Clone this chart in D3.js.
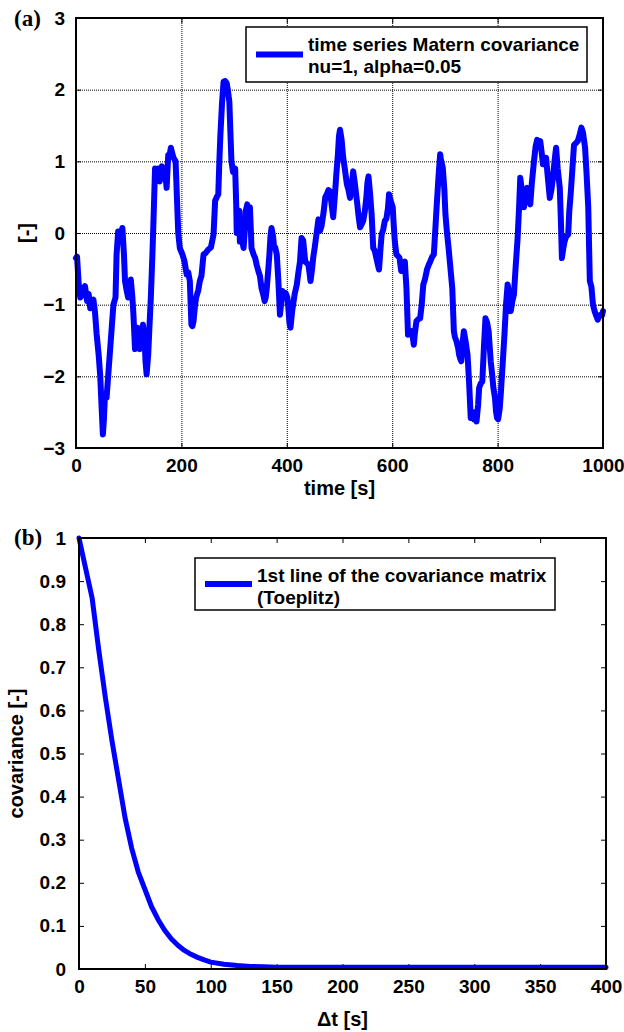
<!DOCTYPE html>
<html>
<head>
<meta charset="utf-8">
<script src="https://cdn.jsdelivr.net/npm/d3@7"></script>
<style>
  body { margin: 0; background: #fff; }
  text { font-family: "Liberation Sans", Arial, sans-serif; font-weight: bold; fill: #000; }
  .panel-tag { font-family: "Liberation Serif", "Times New Roman", serif; font-size: 23px; }
  .grid line { stroke: #000; stroke-width: 1; stroke-dasharray: 1,1; }
  .grid path { display: none; }
  .ticks path { display: none; }
  .ticks line { stroke: #000; stroke-width: 1; }
  .labels path, .labels line { display: none; }
  .labels text { font-size: 19px; }
</style>
</head>
<body>
<svg id="chart"></svg>
<script>
const width = 624;
const height = 1032;

// panel (a): time series, Matern covariance nu=1, alpha=0.05
const tsTime = [0,2,5,8,12,17,21,24,27,30,33,36,39,43,46,49,51,53,55,58,62,65,68,71,75,77,80,84,88,91,93,96,99,102,104,107,109,112,114,116,119,121,124,127,130,132,134,137,139,142,145,147,150,153,156,159,161,163,166,169,172,175,178,180,183,185,189,192,194,197,202,206,210,213,216,219,221,223,226,228,232,235,238,242,246,251,256,261,264,267,270,272,274,277,280,283,286,288,291,293,295,298,302,304,305,308,310,311,314,318,320,322,325,328,330,332,333,337,340,343,346,349,352,355,358,360,362,365,367,369,371,374,376,378,381,384,387,389,392,395,398,401,403,405,407,410,412,415,419,422,425,428,431,435,438,441,443,445,448,450,453,457,460,463,466,470,473,476,479,482,485,488,491,494,497,499,501,504,507,510,514,517,520,523,526,529,533,536,539,542,545,548,551,553,555,558,561,564,567,570,573,575,578,580,583,586,589,592,594,597,601,603,605,608,611,614,617,620,624,627,630,633,637,639,641,643,646,650,653,656,659,662,666,669,672,676,679,682,685,688,691,693,696,699,701,704,707,710,714,717,719,722,725,727,729,731,734,736,739,743,746,749,752,755,758,760,763,765,768,771,774,777,780,783,787,790,792,795,797,799,801,804,806,809,813,816,819,822,825,828,831,834,838,841,843,846,850,853,856,859,862,865,869,872,875,878,881,884,886,889,892,895,899,902,905,908,911,914,918,920,922,925,927,930,934,936,939,942,945,948,952,955,959,962,966,969,972,975,978,981,984,987,990,993,996,998,1000];
const tsValue = [-0.35,-0.33,-0.7,-0.9,-0.85,-0.74,-0.95,-0.85,-1.05,-0.95,-0.93,-1.1,-1.4,-1.7,-2.0,-2.5,-2.81,-2.6,-2.25,-2.3,-1.9,-1.6,-1.3,-1.0,-0.9,-0.3,0.02,-0.05,0.07,-0.3,-0.67,-0.8,-0.9,-0.75,-0.65,-0.9,-1.14,-1.62,-1.4,-1.32,-1.55,-1.62,-1.4,-1.28,-1.46,-1.8,-1.97,-1.7,-1.37,-0.9,-0.3,0.16,0.9,0.82,0.9,0.72,0.85,0.93,0.8,0.86,0.63,1.09,1.1,1.19,1.1,1.05,1.0,0.4,0.0,-0.21,-0.3,-0.4,-0.58,-0.55,-0.67,-1.28,-1.3,-1.23,-1.0,-0.9,-0.8,-0.67,-0.6,-0.3,-0.28,-0.23,-0.2,-0.02,0.45,0.5,0.54,1.0,1.37,1.8,2.11,2.12,2.09,2.0,1.83,1.4,1.0,0.85,0.9,0.4,0.0,0.2,0.31,-0.12,-0.05,-0.21,0.0,0.3,0.4,0.2,0.36,0.0,-0.21,-0.3,-0.35,-0.45,-0.53,-0.6,-0.77,-0.85,-0.95,-0.9,-0.77,-0.5,-0.3,-0.05,0.07,-0.05,-0.21,-0.2,-0.3,-0.67,-1.14,-1.0,-0.81,-0.88,-0.84,-0.9,-1.05,-1.25,-1.32,-1.1,-1.0,-0.85,-0.72,-0.55,-0.4,-0.07,-0.1,-0.4,-0.42,-0.44,-0.55,-0.67,-0.5,-0.35,-0.2,0.02,0.19,0.03,0.1,0.3,0.5,0.54,0.6,0.58,0.4,0.22,0.5,0.82,1.1,1.35,1.44,1.3,1.05,0.9,0.68,0.6,0.49,0.65,0.86,0.7,0.45,0.25,0.08,0.12,0.17,0.3,0.5,0.7,0.79,0.55,0.26,-0.21,-0.25,-0.35,-0.45,-0.51,-0.2,-0.02,0.05,0.17,0.2,0.35,0.54,0.45,0.36,0.1,-0.12,-0.3,-0.32,-0.35,-0.53,-0.45,-0.4,-0.77,-1.42,-1.4,-1.37,-1.45,-1.56,-1.4,-1.23,-1.2,-1.19,-1.0,-0.72,-0.65,-0.51,-0.45,-0.4,-0.33,-0.3,0.07,0.45,0.8,1.1,1.0,0.91,0.6,0.26,0.0,-0.21,-0.45,-0.77,-1.37,-1.45,-1.51,-1.6,-1.7,-1.75,-1.79,-1.5,-1.37,-1.5,-1.7,-2.1,-2.58,-2.55,-2.6,-2.5,-2.63,-2.4,-2.16,-2.1,-2.07,-1.6,-1.19,-1.25,-1.37,-1.79,-2.0,-2.16,-2.3,-2.49,-2.58,-2.6,-2.45,-2.25,-1.9,-1.42,-1.0,-0.72,-0.85,-1.09,-0.95,-0.86,-0.5,-0.07,0.4,0.77,0.6,0.36,0.5,0.63,0.5,0.4,0.7,1.0,1.2,1.3,1.25,1.28,1.1,0.96,1.0,1.05,0.8,0.49,0.6,0.77,1.0,1.19,0.9,0.63,0.2,-0.35,-0.2,-0.12,-0.05,-0.02,0.3,0.58,0.9,1.23,1.25,1.28,1.35,1.47,1.4,1.19,0.8,0.36,-0.67,-0.75,-1.0,-1.09,-1.15,-1.21,-1.15,-1.14,-1.15,-1.09];
const tsXTicks = [0, 200, 400, 600, 800, 1000];
const tsYTicks = [-3, -2, -1, 0, 1, 2, 3];

// panel (b): first line of the covariance matrix
const covLag = [0,5,10,15,20,25,30,35,40,45,50,55,60,65,70,75,80,85,90,95,100,110,120,130,140,150,175,200,250,300,350,400];
const covValue = [1.0,0.93,0.86,0.74,0.63,0.53,0.44,0.35,0.28,0.225,0.185,0.145,0.115,0.09,0.07,0.055,0.043,0.034,0.027,0.021,0.016,0.011,0.008,0.006,0.005,0.004,0.004,0.004,0.004,0.004,0.004,0.004];
const covXTicks = [0, 50, 100, 150, 200, 250, 300, 350, 400];
const covYTicks = [0, 0.1, 0.2, 0.3, 0.4, 0.5, 0.6, 0.7, 0.8, 0.9, 1];

const svg = d3.select("#chart")
    .attr("width", width)
    .attr("height", height);

function drawPanel(p) {
    const w = p.right - p.left;
    const h = p.bottom - p.top;
    const g = svg.append("g")
        .attr("transform", `translate(${p.left},${p.top})`);

    const x = d3.scaleLinear().domain(p.xDomain).range([0, w]);
    const y = d3.scaleLinear().domain(p.yDomain).range([h, 0]);

    if (p.grid) {
        g.append("g").attr("class", "grid")
            .attr("transform", `translate(0,${h})`)
            .call(d3.axisBottom(x).tickValues(p.xTicks).tickSize(-h).tickFormat(""));
        g.append("g").attr("class", "grid")
            .call(d3.axisLeft(y).tickValues(p.yTicks).tickSize(-w).tickFormat(""));
    }

    // inward ticks on all four sides
    g.append("g").attr("class", "ticks")
        .attr("transform", `translate(0,${h})`)
        .call(d3.axisBottom(x).tickValues(p.xTicks).tickSize(-5).tickFormat(""));
    g.append("g").attr("class", "ticks")
        .call(d3.axisTop(x).tickValues(p.xTicks).tickSize(-5).tickFormat(""));
    g.append("g").attr("class", "ticks")
        .call(d3.axisLeft(y).tickValues(p.yTicks).tickSize(-5).tickFormat(""));
    g.append("g").attr("class", "ticks")
        .attr("transform", `translate(${w},0)`)
        .call(d3.axisRight(y).tickValues(p.yTicks).tickSize(-5).tickFormat(""));

    g.append("g").attr("class", "labels")
        .attr("transform", `translate(0,${h})`)
        .call(d3.axisBottom(x).tickValues(p.xTicks).tickSize(0).tickPadding(11).tickFormat(d3.format("d")));
    g.append("g").attr("class", "labels")
        .call(d3.axisLeft(y).tickValues(p.yTicks).tickSize(0).tickPadding(p.yPad).tickFormat(p.yFormat));

    const line = d3.line()
        .x(d => x(d[0]))
        .y(d => y(d[1]));

    g.append("path")
        .attr("d", line(d3.zip(p.xs, p.ys)))
        .attr("fill", "none")
        .attr("stroke", "#0000ff")
        .attr("stroke-width", p.lineWidth)
        .attr("stroke-linejoin", "round")
        .attr("stroke-linecap", "round");

    g.append("rect")
        .attr("width", w)
        .attr("height", h)
        .attr("fill", "none")
        .attr("stroke", "#000")
        .attr("stroke-width", 2);

    // legend
    const lg = p.legend;
    svg.append("rect")
        .attr("x", lg.x).attr("y", lg.y)
        .attr("width", lg.w).attr("height", lg.h)
        .attr("fill", "#fff")
        .attr("stroke", "#000")
        .attr("stroke-width", 1.5);
    svg.append("line")
        .attr("x1", lg.x + 10).attr("x2", lg.x + 57)
        .attr("y1", lg.y + lg.h / 2).attr("y2", lg.y + lg.h / 2)
        .attr("stroke", "#0000ff")
        .attr("stroke-width", 6);
    lg.lines.forEach((t, i) => {
        svg.append("text")
            .attr("x", lg.x + 62)
            .attr("y", lg.y + 24 + i * 22)
            .style("font-size", "19px")
            .text(t);
    });

    // axis titles
    svg.append("text")
        .attr("x", (p.left + p.right) / 2)
        .attr("y", p.xTitleY)
        .attr("text-anchor", "middle")
        .style("font-size", "20px")
        .text(p.xTitle);
    svg.append("text")
        .attr("transform", `translate(${p.yTitleX},${(p.top + p.bottom) / 2}) rotate(-90)`)
        .attr("text-anchor", "middle")
        .style("font-size", "20px")
        .text(p.yTitle);

    svg.append("text")
        .attr("class", "panel-tag")
        .attr("x", 14)
        .attr("y", p.tagY)
        .text(p.tag);
}

drawPanel({
    left: 76, right: 603, top: 18, bottom: 448,
    xDomain: [0, 1000], yDomain: [-3, 3],
    xTicks: tsXTicks, yTicks: tsYTicks,
    yFormat: d3.format("d"), yPad: 11,
    grid: true,
    xs: tsTime, ys: tsValue, lineWidth: 6,
    legend: { x: 246, y: 27, w: 341, h: 55, lines: ["time series Matern covariance", "nu=1, alpha=0.05"] },
    xTitle: "time [s]", xTitleY: 495,
    yTitle: "[-]", yTitleX: 33,
    tag: "(a)", tagY: 26
});

drawPanel({
    left: 79, right: 606, top: 538, bottom: 969,
    xDomain: [0, 400], yDomain: [0, 1],
    xTicks: covXTicks, yTicks: covYTicks,
    yFormat: d => d === 0 || d === 1 ? String(d) : d3.format(".1f")(d), yPad: 13,
    grid: false,
    xs: covLag, ys: covValue, lineWidth: 5,
    legend: { x: 195, y: 558, w: 360, h: 52, lines: ["1st line of the covariance matrix", "(Toeplitz)"] },
    xTitle: "\u0394t [s]", xTitleY: 1026,
    yTitle: "covariance [-]", yTitleX: 23,
    tag: "(b)", tagY: 545
});
</script>
</body>
</html>
